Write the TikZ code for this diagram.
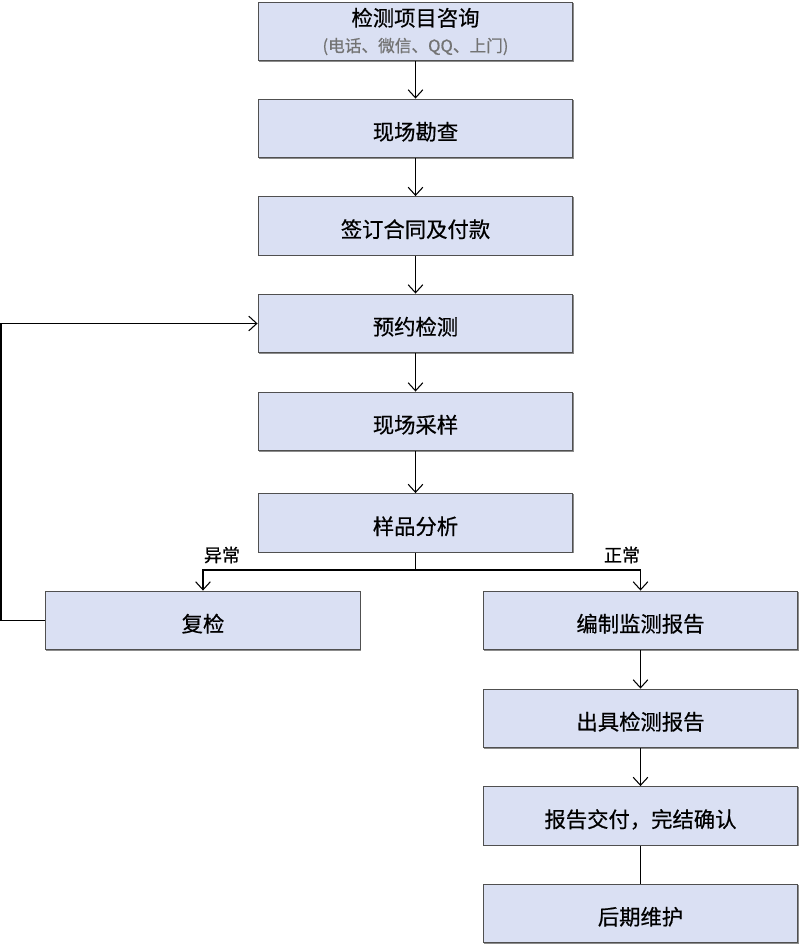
\documentclass[tikz,border=0pt]{standalone}
\usepackage{fontspec}
\setmainfont{Noto Sans CJK SC}[FakeBold=0.6]
\usetikzlibrary{arrows.meta, shadows}
\definecolor{boxfill}{RGB}{218,224,243}
\definecolor{boxline}{RGB}{80,80,80}

\begin{document}
\begin{tikzpicture}[x=0.75pt, y=-0.75pt,
    stepbox/.style={draw=boxline, line width=0.9pt, fill=boxfill,
        minimum width=236pt, minimum height=44pt, inner sep=0pt,
        text height=17pt, text depth=0pt,
        font=\fontsize{16}{19}\selectfont, align=center,
        drop shadow={shadow xshift=0.6pt, shadow yshift=-0.6pt, fill=black!45, opacity=1}},
    arr/.style={-{Straight Barb[length=6pt, width=11pt]}, line width=0.8pt},
    conn/.style={line width=0.8pt},
    tag/.style={font=\fontsize{13.5}{16}\selectfont}]
    \useasboundingbox (0,0) rectangle (800,945);

    % main column
    \node[stepbox, text height={}, text depth={}] (ask) at (415.5,31.5)
        {检测项目咨询\\[0.5pt]{\fontsize{12.5}{14}\selectfont\color{black!55}(电话、微信、QQ、上门)}};
    \node[stepbox] (survey) at (415.5,128.5) {现场勘查};
    \node[stepbox] (sign) at (415.5,226) {签订合同及付款};
    \node[stepbox] (book) at (415.5,323.5) {预约检测};
    \node[stepbox] (sample) at (415.5,421.5) {现场采样};
    \node[stepbox] (analyse) at (415.5,523) {样品分析};

    % branches
    \node[stepbox] (recheck) at (203,620.5) {复检};
    \node[stepbox] (draft) at (640.5,620.5) {编制监测报告};
    \node[stepbox] (issue) at (640.5,718.5) {出具检测报告};
    \node[stepbox] (deliver) at (640.5,816) {报告交付，完结确认};
    \node[stepbox] (service) at (640.5,913.5) {后期维护};

    % arrows down the column
    \draw[arr] (ask) -- (survey);
    \draw[arr] (survey) -- (sign);
    \draw[arr] (sign) -- (book);
    \draw[arr] (book) -- (sample);
    \draw[arr] (sample) -- (analyse);

    % split after analysis
    \coordinate (split) at (415.5,570);
    \draw[conn] (analyse) -- (split);
    \draw[arr] (split) -| (recheck.north);
    \draw[arr] (split) -| (draft.north);
    \node[tag] (bad) at (222,555) {异常};
    \node[tag] (good) at (622,555) {正常};

    % feedback loop back to booking
    \coordinate (loop) at (1,620.5);
    \draw[conn] (recheck.west) -- (loop);
    \draw[arr] (loop) |- (book.west);

    % right column
    \draw[arr] (draft) -- (issue);
    \draw[arr] (issue) -- (deliver);
    \draw[conn] (deliver) -- (service);
\end{tikzpicture}
\end{document}
